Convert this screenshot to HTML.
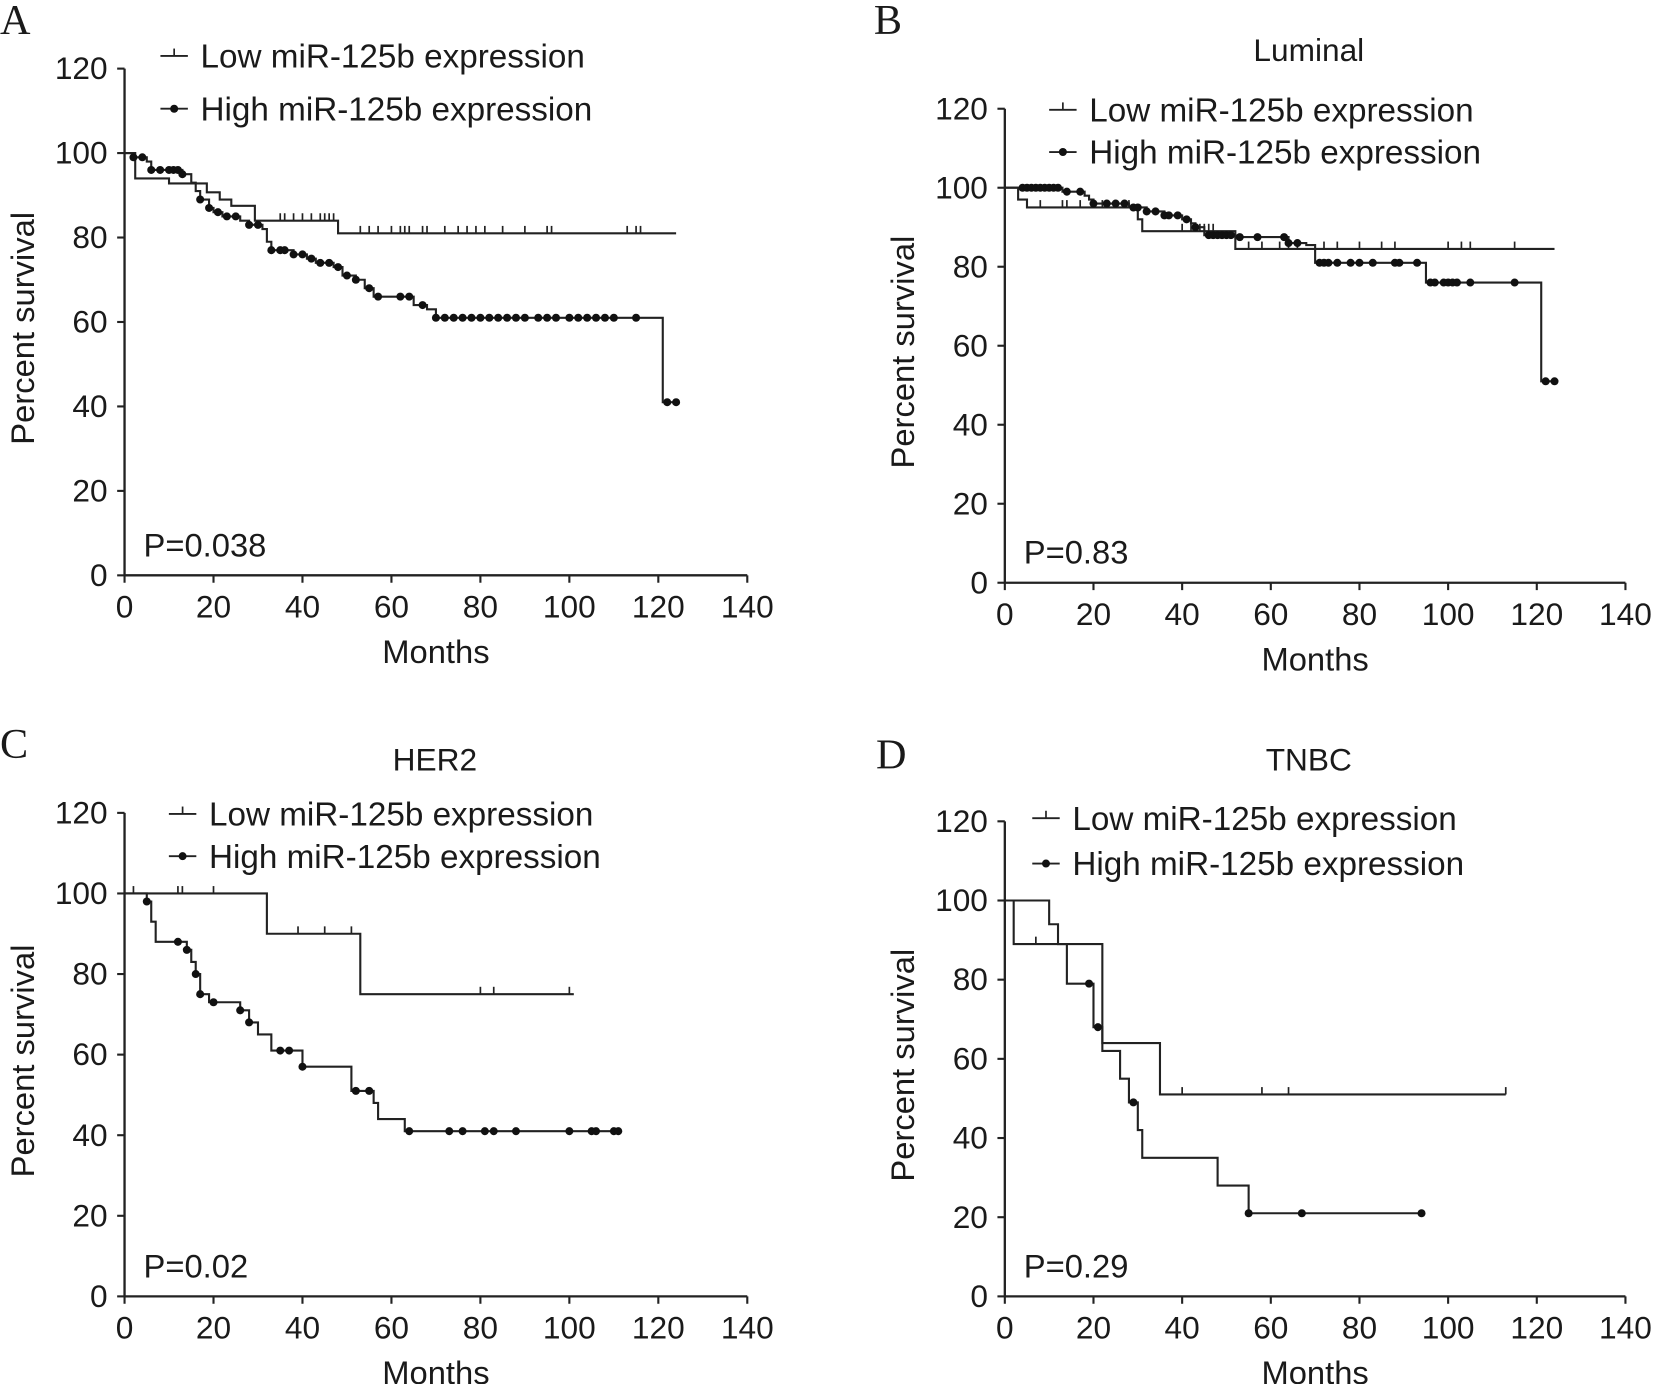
<!DOCTYPE html>
<html><head><meta charset="utf-8"><style>
html,body{margin:0;padding:0;background:#fff}
svg{display:block}
text{font-family:"Liberation Sans",Arial,sans-serif;fill:#1a1a1a}
</style></head><body>
<svg id="fig" width="1655" height="1384" viewBox="0 0 1568 1311" preserveAspectRatio="none" xmlns="http://www.w3.org/2000/svg"></svg>
<script>
// ---- data (months, percent survival) ----
const xTicks=[0,20,40,60,80,100,120,140];
const yTicks=[0,20,40,60,80,100,120];
// Panel A
const aLowT=[0,2.4,10,18.5,21.4,24,29.3,48,124];
const aLowS=[100,94,92.8,90.7,89,87.5,84,81,81];
const aLowC=[35,36,38,40,42,44,45,46,47,53,55,57,60,62,63,64,67,68,72,75,77,79,81,85,90,95,96,113,115,116];
const aHighT=[0,2,5,6,13,15,16,17,19,20,22,26,28,31,32,33,38,41,43,47,49,52,54,56,65,68,70,121,124];
const aHighS=[100,99,98,96,95,93,91,89,87,86,85,84,83,82,79,77,76,75,74,73,71,70,68,66,64,63,61,41,41];
const aHighC=[2,4,6,8,10,11,12,13,17,19,21,23,25,28,30,33,35,36,38,40,42,44,46,48,50,52,55,57,62,64,67,70,72,74,76,78,80,82,84,86,88,90,93,95,97,100,102,104,106,108,110,115,122,124];
// Panel B
const bLowT=[0,3,5,30,31,52,124];
const bLowS=[100,97,95,92,89,84.5,84.5];
const bLowC=[8,13,14,17,20,22,28,40,42,44,45,46,47,55,58,62,64,66,72,75,80,85,88,100,103,105,115];
const bHighT=[0,13,18,19,20,28,32,36,40,42,43,45,52,64,68,70,95,121,124];
const bHighS=[100,99,98,97,96,95,94,93,92,91,90,88,87.5,86,85.5,81,76,51,51];
const bHighC=[4,5,6,7,8,9,10,11,12,14,17,20,23,25,27,29,30,32,34,36,37,39,41,43,46,47,48,49,50,51,53,57,63,64,66,71,72,73,75,78,80,83,88,89,93,96,97,99,100,101,102,105,115,122,124];
// Panel C
const cLowT=[0,32,53,101];
const cLowS=[100,90,75,75];
const cLowC=[2,12,13,20,39,45,51,80,83,100];
const cHighT=[0,5,6,7,14,15,16,17,19,26,28,30,33,40,51,56,57,63,111];
const cHighS=[100,98,93,88,86,83,80,75,73,71,68,65,61,57,51,48,44,41,41];
const cHighC=[5,12,14,16,17,20,26,28,35,37,40,52,55,64,73,76,81,83,88,100,105,106,110,111];
// Panel D
const dLowT=[0,2,22,35,113];
const dLowS=[100,89,64,51,51];
const dLowC=[7,40,58,64,113];
const dHighT=[0,10,12,14,20,22,26,28,30,31,48,55,94];
const dHighS=[100,94,89,79,68,62,55,49,42,35,28,21,21];
const dHighC=[19,21,29,55,67,94];

const NS="http://www.w3.org/2000/svg";
const svg=document.getElementById('fig');
function mk(tag,attrs,parent){const e=document.createElementNS(NS,tag);for(const k in attrs)e.setAttribute(k,attrs[k]);(parent||svg).appendChild(e);return e;}
function txt(s,x,y,size,anchor,parent,extra){const t=mk('text',Object.assign({x:x,y:y,'font-size':size,'text-anchor':anchor||'start'},extra||{}),parent);t.textContent=s;return t;}
function stepAt(T,S,t){let v=S[0];for(let i=0;i<T.length;i++){if(T[i]<=t)v=S[i];}return v;}

function panel(p){
  const g=mk('g',{});
  
  
  const X=v=>p.x0+(p.x1-p.x0)*v/140, Y=v=>p.y0-(p.y0-p.y1)*v/120;
  const L=txt(p.id,p.lx,p.ly,40,'start',g,{style:'font-family:"Liberation Serif",serif'});
  
  if(p.title){const tt=txt(p.title,p.tx,p.ty,30,'middle',g);}
  const ax=mk('path',{d:`M${X(0)},${Y(120)}V${Y(0)}H${X(140)}`,stroke:'#222','stroke-width':2.2,fill:'none'},g);
  
  yTicks.forEach(v=>{mk('line',{x1:X(0)-7,x2:X(0),y1:Y(v),y2:Y(v),stroke:'#222','stroke-width':2},g);
    const t=txt(String(v),X(0)-16,Y(v)+10,30,'end',g);});
  xTicks.forEach(v=>{mk('line',{x1:X(v),x2:X(v),y1:Y(0),y2:Y(0)+7,stroke:'#222','stroke-width':2},g);
    const t=txt(String(v),X(v),Y(0)+40,30,'middle',g);});
  const xt=txt('Months',(X(0)+X(140))/2,Y(0)+83,31,'middle',g);
  const yc=(Y(0)+Y(120))/2+6;
  const yt=txt('Percent survival',p.x0-86,yc,31,'middle',g,{transform:`rotate(-90 ${p.x0-86} ${yc})`});
  
  const pv=txt(p.pval,p.x0+18,Y(0)-18,31,'start',g);
  function curve(T,S,C,high,name){
    let d=`M${X(T[0])},${Y(S[0])}`;
    for(let i=1;i<T.length;i++){d+=`H${X(T[i])}V${Y(S[i])}`;}
    const pth=mk('path',{d:d,stroke:'#222','stroke-width':2,fill:'none'},g);
    
    C.forEach(c=>{const s=stepAt(T,S,c);
      if(high){const m=mk('circle',{cx:X(c),cy:Y(s),r:3.8,fill:'#111'},g);
        }
      else{const m=mk('line',{x1:X(c),x2:X(c),y1:Y(s),y2:Y(s)-7,stroke:'#222','stroke-width':1.6},g);
        }
    });
  }
  curve(p.lowT,p.lowS,p.lowC,false,'low-expression');
  curve(p.highT,p.highS,p.highC,true,'high-expression');
  const lg=mk('g',{},g);
  const e1=mk('g',{},lg);
  mk('line',{x1:p.gx,x2:p.gx+26,y1:p.g1,y2:p.g1,stroke:'#222','stroke-width':1.8},e1);
  mk('line',{x1:p.gx+13,x2:p.gx+13,y1:p.g1,y2:p.g1-7,stroke:'#222','stroke-width':1.6},e1);
  txt('Low miR-125b expression',p.gx+38,p.g1+11,31.5,'start',e1);
  const e2=mk('g',{},lg);
  mk('line',{x1:p.gx,x2:p.gx+26,y1:p.g2,y2:p.g2,stroke:'#222','stroke-width':1.8},e2);
  mk('circle',{cx:p.gx+13,cy:p.g2,r:3.8,fill:'#111'},e2);
  txt('High miR-125b expression',p.gx+38,p.g2+11,31.5,'start',e2);
}
panel({id:'A',x0:118,x1:708,y0:545,y1:65,lx:0,ly:32,pval:'P=0.038',gx:152,g1:53,g2:103,
  lowT:aLowT,lowS:aLowS,lowC:aLowC,highT:aHighT,highS:aHighS,highC:aHighC});
panel({id:'B',x0:952,x1:1540,y0:552,y1:103,lx:828,ly:32,title:'Luminal',tx:1240,ty:58,pval:'P=0.83',gx:994,g1:104,g2:144,
  lowT:bLowT,lowS:bLowS,lowC:bLowC,highT:bHighT,highS:bHighS,highC:bHighC});
panel({id:'C',x0:118,x1:708,y0:1228,y1:770,lx:0,ly:718,title:'HER2',tx:412,ty:730,pval:'P=0.02',gx:160,g1:771,g2:811,
  lowT:cLowT,lowS:cLowS,lowC:cLowC,highT:cHighT,highS:cHighS,highC:cHighC});
panel({id:'D',x0:952,x1:1540,y0:1228,y1:778,lx:830,ly:728,title:'TNBC',tx:1240,ty:730,pval:'P=0.29',gx:978,g1:775,g2:818,
  lowT:dLowT,lowS:dLowS,lowC:dLowC,highT:dHighT,highS:dHighS,highC:dHighC});
</script>
</body></html>
